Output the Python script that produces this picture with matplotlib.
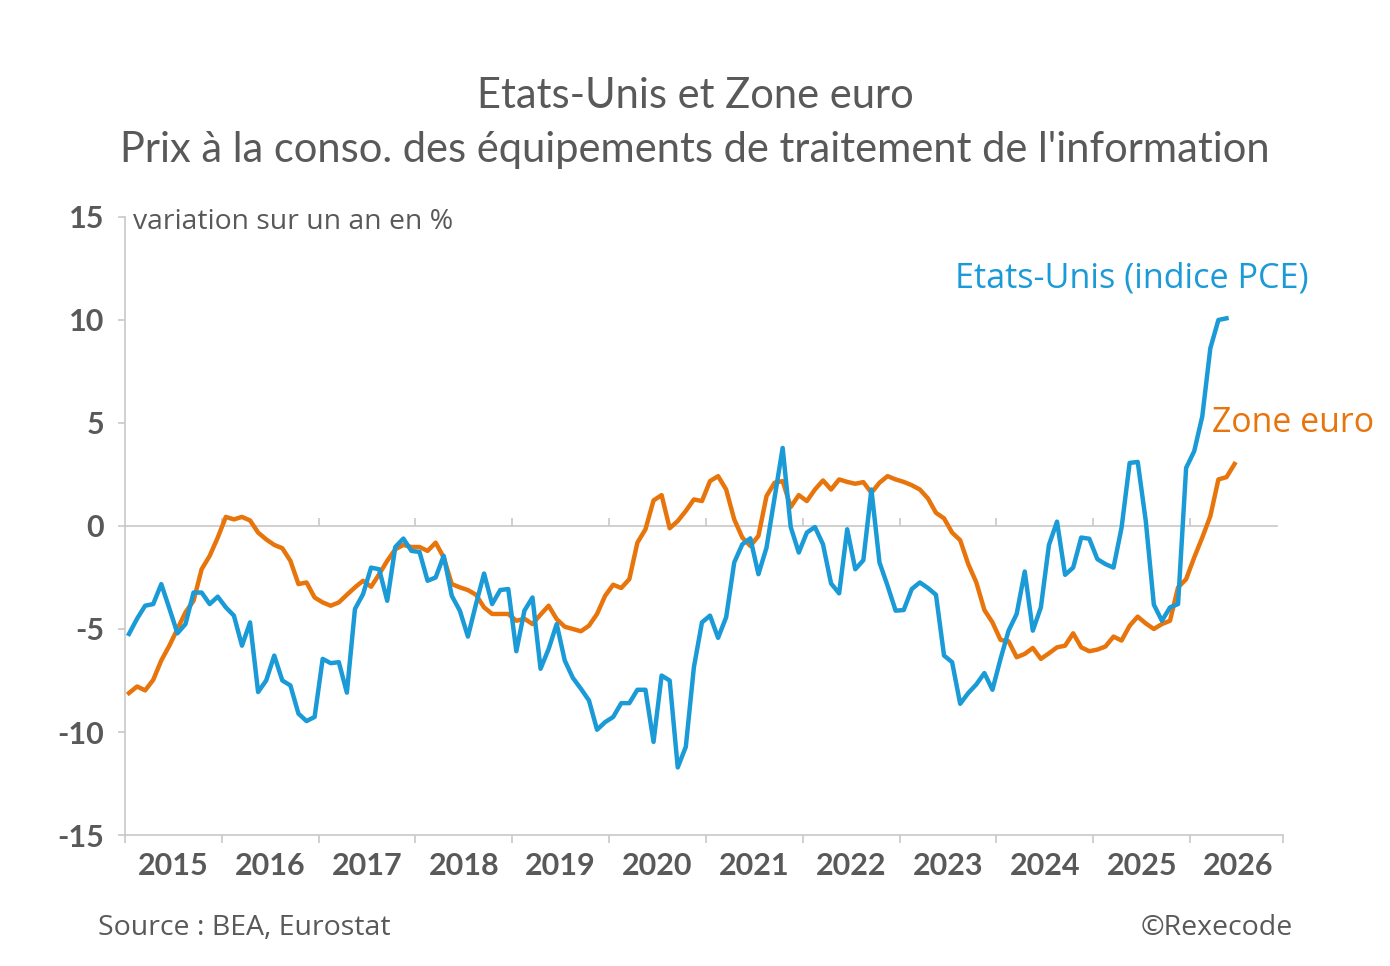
import numpy as np
import matplotlib
matplotlib.use("Agg")
import matplotlib.pyplot as plt

# glissement annuel, mensuel, depuis janvier 2015
us_pce = [-5.24, -4.5, -3.87, -3.79, -2.82, -4.0, -5.21, -4.76, -3.23, -3.23, -3.79, -3.43,
          -3.95, -4.35, -5.81, -4.68, -8.06, -7.5, -6.29, -7.5, -7.74, -9.11, -9.47, -9.27,
          -6.45, -6.66, -6.61, -8.09, -4.03, -3.31, -2.02, -2.1, -3.63, -1.02, -0.61, -1.21,
          -1.26, -2.66, -2.5, -1.45, -3.39, -4.11, -5.37, -3.79, -2.31, -3.79, -3.11, -3.06,
          -6.08, -4.11, -3.47, -6.93, -5.97, -4.76, -6.53, -7.37, -7.9, -8.47, -9.89, -9.52,
          -9.27, -8.6, -8.6, -7.95, -7.95, -10.48, -7.26, -7.5, -11.72, -10.72, -6.86, -4.68,
          -4.35, -5.43, -4.43, -1.77, -0.89, -0.6, -2.34, -1.05, 1.37, 3.79, -0.05, -1.29,
          -0.32, -0.05, -0.89, -2.79, -3.27, -0.16, -2.1, -1.66, 1.77, -1.77, -2.9, -4.11,
          -4.08, -3.06, -2.74, -3.01, -3.34, -6.29, -6.61, -8.63, -8.11, -7.69, -7.14, -7.95,
          -6.45, -5.08, -4.27, -2.21, -5.08, -3.95, -0.92, 0.21, -2.37, -2.02, -0.56, -0.62,
          -1.61, -1.85, -2.02, -0.08, 3.06, 3.11, 0.24, -3.82, -4.6, -3.95, -3.79, 2.82,
          3.63, 5.32, 8.63, 10.0, 10.08]

zone_euro = [-8.11, -7.79, -7.98, -7.47, -6.53, -5.81, -5.0, -4.19, -3.63, -2.1, -1.45, -0.56,
             0.44, 0.32, 0.44, 0.27, -0.32, -0.65, -0.92, -1.08, -1.69, -2.82, -2.74, -3.47,
             -3.71, -3.87, -3.71, -3.34, -2.98, -2.66, -2.95, -2.34, -1.69, -1.13, -0.92, -1.02,
             -1.02, -1.21, -0.81, -1.53, -2.82, -2.98, -3.11, -3.34, -3.95, -4.27, -4.27, -4.27,
             -4.6, -4.5, -4.76, -4.3, -3.87, -4.52, -4.89, -5.0, -5.11, -4.84, -4.27, -3.39,
             -2.85, -3.01, -2.58, -0.81, -0.16, 1.24, 1.5, -0.11, 0.24, 0.73, 1.29, 1.21,
             2.18, 2.42, 1.77, 0.32, -0.56, -0.97, -0.48, 1.45, 2.1, 2.18, 0.92, 1.5,
             1.21, 1.77, 2.21, 1.77, 2.26, 2.14, 2.05, 2.13, 1.61, 2.1, 2.42, 2.26,
             2.14, 1.98, 1.77, 1.34, 0.64, 0.37, -0.32, -0.69, -1.85, -2.74, -4.08, -4.68,
             -5.53, -5.6, -6.37, -6.21, -5.92, -6.45, -6.18, -5.89, -5.81, -5.21, -5.89, -6.08,
             -6.0, -5.85, -5.37, -5.56, -4.84, -4.4, -4.73, -5.0, -4.76, -4.6, -2.98, -2.58,
             -1.53, -0.56, 0.48, 2.26, 2.37, 3.01]

years = list(range(2015, 2027))
yticks = [15, 10, 5, 0, -5, -10, -15]

blue = "#1A9AD6"
orange = "#E8740C"
gray = "#595959"
axcol = "#C8C8C8"

fig = plt.figure(figsize=(13.9, 9.66), dpi=100)
ax = fig.add_axes([0.0899, 0.1356, 0.8331, 0.6398])

x_us = np.arange(len(us_pce)) + 0.5
x_ez = np.arange(len(zone_euro)) + 0.5
ax.plot(x_ez, zone_euro, color=orange, lw=3.2, solid_joinstyle="round")
ax.plot(x_us, us_pce, color=blue, lw=3.2, solid_joinstyle="round")

ax.set_xlim(0, 143.5)
ax.set_ylim(-15, 15)
ax.axhline(0, color=axcol, lw=1.2, xmax=0.995, zorder=0)

for s in ["top", "right"]:
    ax.spines[s].set_visible(False)
ax.spines["left"].set_color(axcol)
ax.spines["bottom"].set_color(axcol)
ax.spines["left"].set_linewidth(1.2)
ax.spines["bottom"].set_linewidth(1.2)

ax.set_yticks(yticks)
ax.set_yticklabels([str(v) for v in yticks])
ax.tick_params(axis="y", length=5, width=1.2, color=axcol, pad=10,
               labelsize=22, labelcolor=gray)

ys = [12 * k for k in range(len(years))] + [143.5]
ax.set_xticks(ys)
ax.set_xticklabels([])
ax.tick_params(axis="x", which="major", length=6, width=1.2, color=axcol)
ax.set_xticks([12 * k + 6 for k in range(len(years))], minor=True)
ax.set_xticklabels([str(y) for y in years], minor=True)
ax.tick_params(axis="x", which="minor", length=0, pad=12, labelsize=22, labelcolor=gray)

for lab in ax.get_yticklabels() + ax.get_xticklabels(minor=True):
    lab.set_fontweight("bold")
    lab.set_family("Lato")

# ticks on the zero line
sec = ax.secondary_xaxis(0.5)
sec.set_xticks([12 * k for k in range(1, len(years))])
sec.set_xticklabels([])
sec.tick_params(length=6, width=1.2, color=axcol)
for sp in sec.spines.values():
    sp.set_visible(False)

fig.text(0.5, 0.901, "Etats-Unis et Zone euro", ha="center", va="center",
         fontsize=30, color=gray, family="Lato")
fig.text(0.5, 0.845, "Prix à la conso. des équipements de traitement de l'information",
         ha="center", va="center", fontsize=30, color=gray, family="Lato")
fig.text(0.0957, 0.770, "variation sur un an en %", ha="left", va="center",
         fontsize=20.4, color=gray, family="Open Sans")
fig.text(0.687, 0.712, "Etats-Unis (indice PCE)", ha="left", va="center",
         fontsize=24.6, color=blue, family="Open Sans")
fig.text(0.872, 0.562, "Zone euro", ha="left", va="center",
         fontsize=24.4, color=orange, family="Open Sans")
fig.text(0.0705, 0.039, "Source : BEA, Eurostat", ha="left", va="center",
         fontsize=20.5, color=gray, family="Open Sans")
fig.text(0.930, 0.039, "©Rexecode", ha="right", va="center",
         fontsize=20.5, color=gray, family="Open Sans")

fig.savefig("out.png", dpi=100)
